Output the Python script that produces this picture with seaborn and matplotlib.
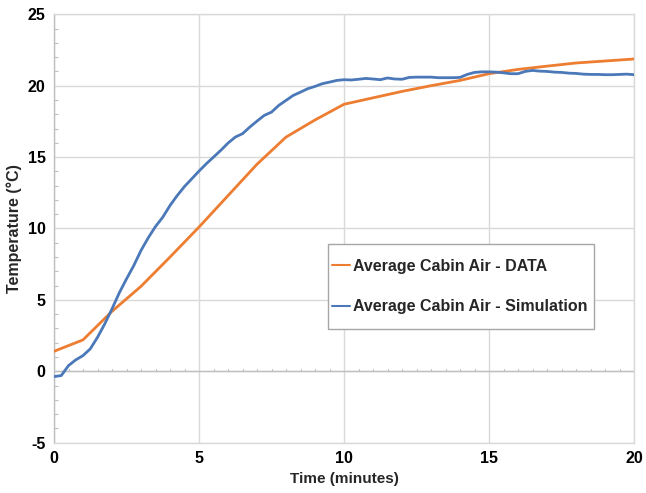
import numpy as np
import pandas as pd
import matplotlib
matplotlib.use("Agg")
import matplotlib.pyplot as plt
import seaborn as sns
from matplotlib.ticker import MultipleLocator
from matplotlib.patches import Rectangle

# ---- data ----
data_time = [0, 1, 2, 3, 4, 5, 6, 7, 8, 9, 10, 11, 12, 13, 14, 15, 16, 17, 18, 19, 20]
data_temp = [1.40, 2.20, 4.20, 5.95, 8.0, 10.1, 12.3, 14.5, 16.4, 17.6, 18.7,
             19.15, 19.6, 20.0, 20.37, 20.84, 21.14, 21.37, 21.59, 21.73, 21.87]

sim_time = [0, 0.25, 0.5, 0.75, 1.0, 1.25, 1.5, 1.75, 2.0, 2.25, 2.5, 2.75, 3.0,
            3.25, 3.5, 3.75, 4.0, 4.25, 4.5, 4.75, 5.0, 5.25, 5.5, 5.75, 6.0,
            6.25, 6.5, 6.75, 7.0, 7.25, 7.5, 7.75, 8.0, 8.25, 8.5, 8.75, 9.0,
            9.25, 9.5, 9.75, 10.0, 10.25, 10.5, 10.75, 11.0, 11.25, 11.5, 11.75,
            12.0, 12.25, 12.5, 12.75, 13.0, 13.25, 13.5, 13.75, 14.0, 14.25,
            14.5, 14.75, 15.0, 15.25, 15.5, 15.75, 16.0, 16.25, 16.5, 16.75,
            17.0, 17.25, 17.5, 17.75, 18.0, 18.25, 18.5, 18.75, 19.0, 19.25,
            19.5, 19.75, 20.0]
sim_temp = [-0.37, -0.30, 0.40, 0.80, 1.10, 1.57, 2.38, 3.32, 4.37, 5.49, 6.47,
            7.40, 8.46, 9.35, 10.14, 10.79, 11.61, 12.31, 12.94, 13.48, 14.02,
            14.53, 15.00, 15.47, 15.98, 16.40, 16.64, 17.10, 17.52, 17.92,
            18.15, 18.62, 18.97, 19.32, 19.55, 19.79, 19.95, 20.14, 20.25,
            20.37, 20.42, 20.40, 20.45, 20.51, 20.47, 20.42, 20.54, 20.47,
            20.45, 20.58, 20.60, 20.60, 20.60, 20.56, 20.56, 20.56, 20.58,
            20.79, 20.93, 20.97, 20.97, 20.95, 20.90, 20.84, 20.84, 21.00,
            21.07, 21.02, 21.00, 20.95, 20.93, 20.88, 20.86, 20.81, 20.79,
            20.79, 20.77, 20.77, 20.79, 20.81, 20.77]

series_names = ["Average Cabin Air - DATA", "Average Cabin Air - Simulation"]
series_colors = ["#ED7D31", "#4A78B8"]

x_ticks = [0, 5, 10, 15, 20]
y_ticks = [-5, 0, 5, 10, 15, 20, 25]

df = pd.concat([
    pd.DataFrame({"Time": data_time, "Temp": data_temp, "Series": series_names[0]}),
    pd.DataFrame({"Time": sim_time, "Temp": sim_temp, "Series": series_names[1]}),
], ignore_index=True)

# ---- style ----
sns.set_theme(style="white")
plt.rcParams["font.family"] = ["Liberation Sans", "DejaVu Sans"]
plt.rcParams["font.weight"] = "bold"
plt.rcParams["axes.unicode_minus"] = False

W, H = 646, 493
fig = plt.figure(figsize=(W / 100, H / 100), dpi=100)
ax = fig.add_axes([54 / W, 1 - 442.7 / H, 580 / W, (442.7 - 14.3) / H])

grid_c = "#D9D9D9"
axis_c = "#BFBFBF"

sns.lineplot(data=df, x="Time", y="Temp", hue="Series", hue_order=series_names,
             palette=series_colors, linewidth=2.0, ax=ax, sort=False,
             estimator=None, zorder=3)

ax.set_xlim(0, 20)
ax.set_ylim(-5, 25)
ax.set_xticks(x_ticks)
ax.set_yticks(y_ticks)
ax.xaxis.set_minor_locator(MultipleLocator(0.5))
ax.yaxis.set_minor_locator(MultipleLocator(1))
ax.grid(True, which="major", color=grid_c, linewidth=1.0, zorder=0)
ax.set_axisbelow(True)

for s in ax.spines.values():
    s.set_color(grid_c)
    s.set_linewidth(1.0)
ax.spines["left"].set_color(axis_c)
# horizontal axis line at y=0
ax.axhline(0, color=axis_c, linewidth=1.0, zorder=1)
# minor x ticks above y=0 line
for xm in np.arange(0.5, 20, 0.5):
    if xm % 5 != 0:
        ax.plot([xm, xm], [0, 0.18], color=axis_c, linewidth=0.8, zorder=1)

ax.tick_params(axis="both", which="major", length=0, labelsize=11.5, pad=6,
               labelcolor="black")
ax.tick_params(axis="y", which="minor", direction="in", length=3, color=axis_c,
               left=True, width=0.8)
ax.tick_params(axis="x", which="minor", length=0)
for lab in ax.get_xticklabels() + ax.get_yticklabels():
    lab.set_fontweight("bold")

ax.set_xlabel("Time (minutes)", fontsize=11, fontweight="bold", labelpad=4)
ax.set_ylabel("Temperature (\u00b0C)", fontsize=11.5, fontweight="bold", labelpad=4)

# legend box (frame drawn separately to match asymmetric padding)
bx0, bx1, by0, by1 = 328, 594, 244, 329
fig.patches.append(Rectangle((bx0 / W, 1 - by1 / H), (bx1 - bx0) / W, (by1 - by0) / H,
                             transform=fig.transFigure, facecolor="white",
                             edgecolor="#A6A6A6", linewidth=1.0, zorder=5))
leg = ax.legend(loc="center left", bbox_to_anchor=(332 / W, 1 - 286.5 / H),
                bbox_transform=fig.transFigure, frameon=False,
                handlelength=1.15, handletextpad=0.15,
                labelspacing=1.6, borderpad=0.0, borderaxespad=0,
                prop={"weight": "bold", "size": 11.5})
leg.set_zorder(6)
for line in leg.get_lines():
    line.set_linewidth(1.5)
ax.set_zorder(1)
leg.remove()
fig.legends.append(leg)
leg.set_figure(fig)

fig.savefig("out.png", dpi=100)
